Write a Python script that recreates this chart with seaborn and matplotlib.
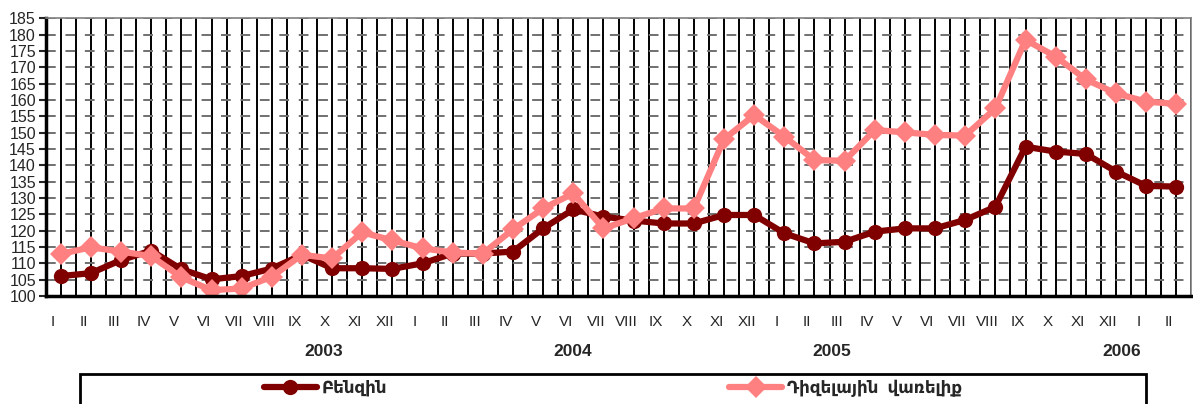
import numpy as np
import pandas as pd
import seaborn as sns
import matplotlib.pyplot as plt
from matplotlib.patches import Rectangle
from matplotlib.lines import Line2D

sns.set_style("white")
plt.rcParams['font.family'] = ['Liberation Sans', 'DejaVu Sans']

# months I 2003 .. II 2006
months = ['I', 'II', 'III', 'IV', 'V', 'VI', 'VII', 'VIII', 'IX', 'X', 'XI', 'XII'] * 3 + ['I', 'II']
years = ['2003', '2004', '2005', '2006']
year_pos = [8.72, 16.98, 25.57, 35.2]   # where the year captions sit on the category axis

benzin = [106.1, 107.0, 111.0, 113.9, 108.2, 105.1, 106.1, 108.4, 112.6, 108.5, 108.5, 108.3,
          110.0, 113.0, 113.0, 113.6, 120.7, 126.5, 124.3, 123.1, 122.2, 122.2, 124.8, 124.8,
          119.2, 116.1, 116.6, 119.7, 120.7, 120.7, 123.3, 127.3, 145.7, 144.2, 143.5, 138.1,
          133.7, 133.5]
diesel = [112.9, 114.9, 113.6, 112.2, 105.7, 101.8, 102.3, 105.9, 112.6, 111.5, 119.5, 117.0,
          114.6, 113.3, 113.0, 120.4, 126.8, 131.4, 120.7, 123.8, 126.8, 126.8, 148.0, 155.4,
          148.8, 141.6, 141.4, 150.8, 150.1, 149.3, 149.1, 157.4, 178.4, 173.3, 166.3, 162.0,
          159.5, 158.8]

lbl_b = 'Բենզին'
lbl_d = 'Դիզելային  վառելիք'

n = len(months)
df = pd.DataFrame({
    'idx': list(range(n)) * 2,
    'value': benzin + diesel,
    'series': [lbl_b] * n + [lbl_d] * n,
})

fig = plt.figure(figsize=(11.93, 4.04), dpi=100)
ax = fig.add_axes([0.0383, 0.2673, 0.9603, 0.6874])

colors = {lbl_b: '#800000', lbl_d: '#FF8080'}
sns.lineplot(data=df, x='idx', y='value', hue='series', style='series',
             palette=colors, markers={lbl_b: 'o', lbl_d: 'D'}, dashes=False,
             linewidth=4.5, markersize=11, markeredgewidth=0, legend=False, ax=ax)

ax.set_xlim(-0.5, n - 0.5)
ax.set_ylim(100, 185)
ax.set_xlabel('')
ax.set_ylabel('')

# vertical grid: boundaries (major) and centres (minor)
ax.set_xticks(np.arange(-0.5, n, 1.0))
ax.set_xticks(np.arange(0, n, 1.0), minor=True)
ax.set_xticklabels([])
ax.tick_params(axis='x', which='major', length=4, width=2.5, color='black', direction='out')
ax.tick_params(axis='x', which='minor', length=0)
ax.grid(True, axis='x', which='both', color='black', linewidth=1.4)

ax.set_yticks(np.arange(100, 186, 5))
ax.tick_params(axis='y', length=5, width=1.5, labelsize=11.5, pad=2, direction='out', left=True)
ax.grid(True, axis='y', color='#707070', linewidth=1.4, linestyle=(0, (5, 5)))
ax.set_axisbelow(True)

for s in ['left', 'bottom']:
    ax.spines[s].set_color('black')
    ax.spines[s].set_linewidth(2.5)
for s in ['top', 'right']:
    ax.spines[s].set_color('#808080')
    ax.spines[s].set_linewidth(1.2)

trans = ax.get_xaxis_transform()
for i, m in enumerate(months):
    ax.text(i - 0.25, -0.094, m, transform=trans, ha='center', va='center', fontsize=11)
for yp, yl in zip(year_pos, years):
    ax.text(yp, -0.2, yl, transform=trans, ha='center', va='center',
            fontsize=12.5, fontweight='bold')

# legend box running off the bottom of the figure
fig.patches.append(Rectangle((80 / 1193, -0.1), 1066 / 1193, 0.1 + 1 - 374 / 404,
                             transform=fig.transFigure, fill=False,
                             edgecolor='black', linewidth=2, clip_on=False))
handles = [Line2D([], [], color=colors[lbl_b], marker='o', lw=4.5, ms=11, mew=0),
           Line2D([], [], color=colors[lbl_d], marker='D', lw=4.5, ms=11, mew=0)]
fig.legend(handles, [lbl_b, lbl_d], loc='center', bbox_to_anchor=(613 / 1193, 1 - 388 / 404),
           ncol=2, frameon=False, handlelength=3.2, handletextpad=0.3, columnspacing=20.5,
           prop={'weight': 'bold', 'size': 12})

fig.savefig('out.png', dpi=100)
